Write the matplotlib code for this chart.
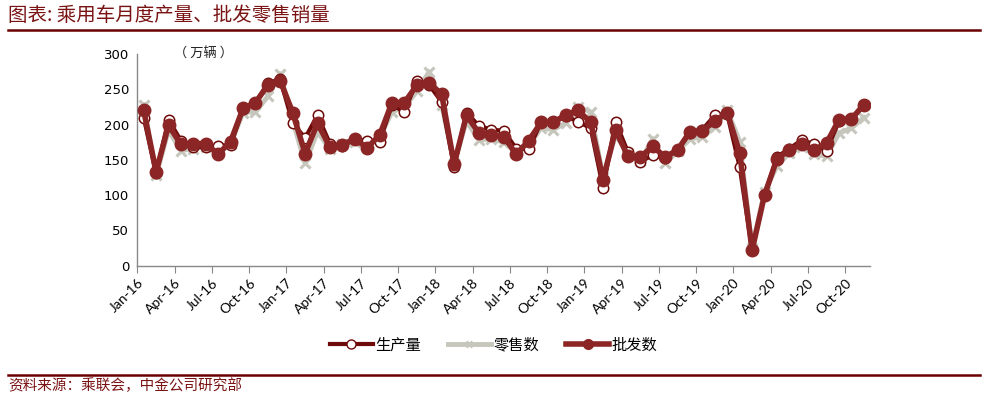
#乘用车月度产量、批发零售销量

#import the libraries
import numpy as np
import matplotlib
matplotlib.use("Agg")
import matplotlib.pyplot as plt
from matplotlib.lines import Line2D

plt.rcParams['font.family'] = ['Noto Sans CJK SC', 'DejaVu Sans']

#month labels, Jan-16 .. Nov-20
years = ["16", "17", "18", "19", "20"]
mons = ["Jan", "Feb", "Mar", "Apr", "May", "Jun", "Jul", "Aug", "Sep", "Oct", "Nov", "Dec"]
months = [m + "-" + y for y in years for m in mons][:59]

#production (万辆)
production = [210, 131, 207, 177, 168, 168, 170, 171, 222, 230, 259, 264,
              202, 181, 213, 173, 170, 179, 177, 176, 228, 218, 262, 256,
              232, 140, 217, 198, 193, 191, 166, 165, 203, 203, 212, 204,
              195, 110, 204, 161, 147, 157, 152, 164, 188, 193, 213, 215,
              140, 22, 100, 154, 166, 178, 172, 163, 205, 208, 228]
#retail
retail = [228, 128, 192, 163, 166, 168, 163, 172, 217, 218, 240, 272,
          206, 145, 190, 165, 172, 176, 170, 182, 218, 225, 247, 275,
          228, 145, 205, 178, 180, 175, 160, 170, 195, 193, 202, 225,
          218, 125, 185, 160, 148, 180, 145, 162, 180, 182, 197, 220,
          176, 25, 105, 141, 160, 168, 158, 155, 188, 195, 210]
#wholesale
wholesale = [220, 133, 199, 172, 173, 173, 158, 176, 223, 231, 256, 262,
             217, 159, 202, 168, 171, 180, 167, 185, 231, 231, 256, 259,
             243, 144, 213, 188, 185, 183, 158, 177, 203, 203, 214, 220,
             203, 122, 192, 155, 154, 169, 154, 164, 190, 191, 205, 217,
             160, 22, 100, 151, 164, 172, 164, 174, 207, 208, 228]

names = ["生产量", "零售数", "批发数"]
c_prod = "#6E0A0A"
c_ret = "#C6C6BC"
c_whole = "#8C2626"
c_title = "#7A1414"

x = np.arange(len(months)) + 0.5

fig = plt.figure(figsize=(9.87, 3.98), dpi=100)
ax = fig.add_axes([0.1393, 0.3324, 0.7422, 0.5319])

ax.plot(x, retail, color=c_ret, lw=3.5, marker="x", ms=7, mew=2.2, zorder=2)
ax.plot(x, production, color=c_prod, lw=3, marker="o", ms=7.5, mfc="white",
        mec=c_prod, mew=1.1, zorder=3)
ax.plot(x, wholesale, color=c_whole, lw=4, marker="o", ms=9, mfc=c_whole,
        mec=c_whole, zorder=4)

ax.set_xlim(0, 59)
ax.set_ylim(0, 300)
ax.set_yticks(np.arange(0, 301, 50))
ax.set_xticks(np.arange(0, 59, 3))
ax.set_xticklabels(months[::3], rotation=45, ha="right", rotation_mode="anchor",
                   fontsize=10, family=["Lato", "DejaVu Sans"])
for lab in ax.get_yticklabels():
    lab.set_fontsize(9.5)
    lab.set_family(["DejaVu Sans"])
ax.tick_params(axis="y", length=0, pad=6)
ax.tick_params(axis="x", length=5, color="#888888", direction="out", pad=3)
for s in ["top", "right"]:
    ax.spines[s].set_visible(False)
for s in ["left", "bottom"]:
    ax.spines[s].set_color("#888888")
    ax.spines[s].set_linewidth(1)

ax.text(0.05, 1.0, "（ 万辆 ）", transform=ax.transAxes, fontsize=9.5,
        va="center", ha="left", color="#222222")

#legend
handles = [
    Line2D([], [], color=c_prod, lw=3, marker="o", ms=6.5, mfc="white", mec=c_prod),
    Line2D([], [], color=c_ret, lw=3.5, marker="x", ms=5, mew=2),
    Line2D([], [], color=c_whole, lw=4, marker="o", ms=7, mfc=c_whole, mec=c_whole),
]
fig.legend(handles, names, loc="center", bbox_to_anchor=(0.5, 0.133), ncol=3,
           frameon=False, fontsize=11, handlelength=2.8, handletextpad=0.15,
           columnspacing=1.8)

#title and source
fig.text(0.008, 0.962, "图表: 乘用车月度产量、批发零售销量", fontsize=14,
         color=c_title, va="center", ha="left", style="italic")
fig.add_artist(Line2D([0.008, 0.993], [0.925, 0.925], color="#6B0000", lw=1.8,
                      transform=fig.transFigure))
fig.add_artist(Line2D([0.008, 0.993], [0.058, 0.058], color="#6B0000", lw=1.8,
                      transform=fig.transFigure))
fig.text(0.008, 0.03, "资料来源：乘联会，中金公司研究部", fontsize=10.5,
         color=c_title, va="center", ha="left", style="italic")

fig.savefig("out.png", dpi=100)
